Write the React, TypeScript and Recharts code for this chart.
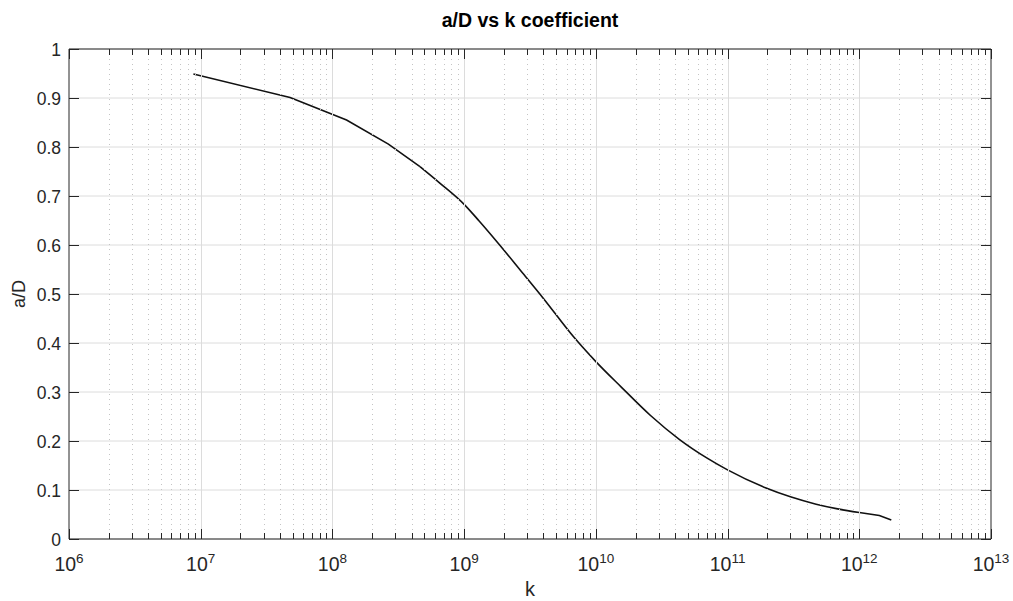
import React from "react";
import {
  LineChart,
  Line,
  XAxis,
  YAxis,
  CartesianGrid,
  ReferenceLine,
} from "recharts";

// ── Data ──────────────────────────────────────────────────────────────────────

const K_VALUES = [
  8.8e6, 4.77e7, 1.28e8, 2.66e8, 4.62e8, 6.5e8, 1e9, 1.3e9, 1.86e9, 2.7e9,
  3.97e9, 6.9e9, 1e10, 1.56e10, 2.6e10, 4.32e10, 7e10, 1e11, 1.96e11, 3e11,
  4.7e11, 7e11, 1e12, 1.42e12, 1.75e12,
];
const RATIO_VALUES = [
  0.949, 0.901, 0.855, 0.806, 0.76, 0.727, 0.683, 0.649, 0.6, 0.547, 0.492,
  0.41, 0.362, 0.31, 0.252, 0.203, 0.165, 0.141, 0.104, 0.086, 0.071, 0.061,
  0.054, 0.048, 0.039,
];

const X_DECADES = [1e6, 1e7, 1e8, 1e9, 1e10, 1e11, 1e12, 1e13];
const Y_TICKS = [0, 0.1, 0.2, 0.3, 0.4, 0.5, 0.6, 0.7, 0.8, 0.9, 1];

// 2..9 × each decade for the minor log grid
const X_MINOR = X_DECADES.slice(0, -1).flatMap((d) =>
  [2, 3, 4, 5, 6, 7, 8, 9].map((m) => m * d),
);
const X_TICKS = [...X_DECADES, ...X_MINOR].sort((a, b) => a - b);

// The sparse head and tail keep their corners; the dense middle is smoothed.
const SMOOTH_FROM = 4;
const SMOOTH_TO = 22;

const data = K_VALUES.map((k, i) => ({
  k,
  head: i <= SMOOTH_FROM ? RATIO_VALUES[i] : null,
  body: i >= SMOOTH_FROM && i <= SMOOTH_TO ? RATIO_VALUES[i] : null,
  tail: i >= SMOOTH_TO ? RATIO_VALUES[i] : null,
}));

// ── Layout ────────────────────────────────────────────────────────────────────

const W = 1005;
const H = 593;
const PLOT_L = 61;
const PLOT_T = 41;
const PLOT_R = 983;
const PLOT_B = 531;

const AXIS_COLOR = "#262626";
const LINE_COLOR = "#111";
const FONT = '"Liberation Sans", Arial, Helvetica, sans-serif';

const snap = (v: number) => Math.round(v) + 0.5;

// ── Tick renderers (ticks point inward, on all four sides) ────────────────────

function XTick({ x, payload }: { x?: number; payload?: { value: number } }) {
  if (x == null || !payload) return null;
  const v = payload.value;
  const exp = Math.round(Math.log10(v));
  const major = Math.abs(v - Math.pow(10, exp)) < 1e-6 * v;
  const len = major ? 10 : 6;
  const px = snap(x);
  const edge = v === X_DECADES[0] || v === X_DECADES[X_DECADES.length - 1];

  return (
    <g>
      {!edge && (
        <line
          x1={px}
          x2={px}
          y1={PLOT_T}
          y2={PLOT_B}
          stroke={major ? "#dcdcdc" : "#c4c4c4"}
          strokeWidth={1}
          strokeDasharray={major ? undefined : "1 4"}
        />
      )}
      <line x1={px} x2={px} y1={PLOT_B} y2={PLOT_B - len} stroke={AXIS_COLOR} />
      <line x1={px} x2={px} y1={PLOT_T} y2={PLOT_T + len} stroke={AXIS_COLOR} />
      {major && (
        <text
          x={x}
          y={563}
          textAnchor="middle"
          fill={AXIS_COLOR}
          fontFamily={FONT}
          fontSize={19.5}
        >
          <tspan>10</tspan>
          <tspan dy={-8} fontSize={13.5}>
            {exp}
          </tspan>
        </text>
      )}
    </g>
  );
}

function YTick({ y, payload }: { y?: number; payload?: { value: number } }) {
  if (y == null || !payload) return null;
  const py = snap(y);
  const label = String(Number(payload.value.toFixed(1)));
  return (
    <g>
      <line x1={PLOT_L} x2={PLOT_L + 10} y1={py} y2={py} stroke={AXIS_COLOR} />
      <line x1={PLOT_R - 10} x2={PLOT_R} y1={py} y2={py} stroke={AXIS_COLOR} />
      <text
        x={PLOT_L - 8}
        y={y + 6.5}
        textAnchor="end"
        fill={AXIS_COLOR}
        fontFamily={FONT}
        fontSize={17.5}
      >
        {label}
      </text>
    </g>
  );
}

// ── Chart ─────────────────────────────────────────────────────────────────────

export default function App() {
  return (
    <div style={{ position: "relative", width: W, height: H, background: "#fff" }}>
      {/* the figure runs to the window edge; no right/bottom margin, no scrollbars */}
      <style>
        {"html, body { overflow: hidden; } body { margin: 8px 0 0 8px; }"}
      </style>
      <LineChart
        width={W}
        height={H}
        data={data}
        margin={{ top: PLOT_T, right: W - PLOT_R, bottom: 0, left: 0 }}
        style={{ overflow: "visible" }}
      >
        <CartesianGrid vertical={false} stroke="#dcdcdc" />
        <XAxis
          dataKey="k"
          type="number"
          scale="log"
          domain={[1e6, 1e13]}
          ticks={X_TICKS}
          interval={0}
          allowDataOverflow
          tickLine={false}
          axisLine={{ stroke: AXIS_COLOR }}
          height={H - PLOT_B}
          tick={<XTick />}
        />
        <YAxis
          type="number"
          domain={[0, 1]}
          ticks={Y_TICKS}
          interval={0}
          tickLine={false}
          axisLine={{ stroke: AXIS_COLOR }}
          width={PLOT_L}
          tick={<YTick />}
        />
        <ReferenceLine y={1} stroke={AXIS_COLOR} />
        <ReferenceLine x={1e13} stroke={AXIS_COLOR} />
        <Line
          type="linear"
          dataKey="head"
          stroke={LINE_COLOR}
          strokeWidth={1.6}
          dot={false}
          connectNulls={false}
          isAnimationActive={false}
        />
        <Line
          type="monotone"
          dataKey="body"
          stroke={LINE_COLOR}
          strokeWidth={1.6}
          dot={false}
          connectNulls={false}
          isAnimationActive={false}
        />
        <Line
          type="linear"
          dataKey="tail"
          stroke={LINE_COLOR}
          strokeWidth={1.6}
          dot={false}
          connectNulls={false}
          isAnimationActive={false}
        />
      </LineChart>

      {/* title and axis names */}
      <svg
        width={W}
        height={H}
        style={{ position: "absolute", left: 0, top: 0, pointerEvents: "none" }}
      >
        <text
          x={(PLOT_L + PLOT_R) / 2}
          y={19}
          textAnchor="middle"
          fontFamily={FONT}
          fontWeight="bold"
          fontSize={19.5}
          fill="#000"
        >
          a/D vs k coefficient
        </text>
        <text
          x={(PLOT_L + PLOT_R) / 2}
          y={588}
          textAnchor="middle"
          fontFamily={FONT}
          fontSize={20}
          fill={AXIS_COLOR}
        >
          k
        </text>
        <text
          transform={`translate(17, ${(PLOT_T + PLOT_B) / 2}) rotate(-90)`}
          textAnchor="middle"
          fontFamily={FONT}
          fontSize={18}
          fill={AXIS_COLOR}
        >
          a/D
        </text>
      </svg>
    </div>
  );
}
